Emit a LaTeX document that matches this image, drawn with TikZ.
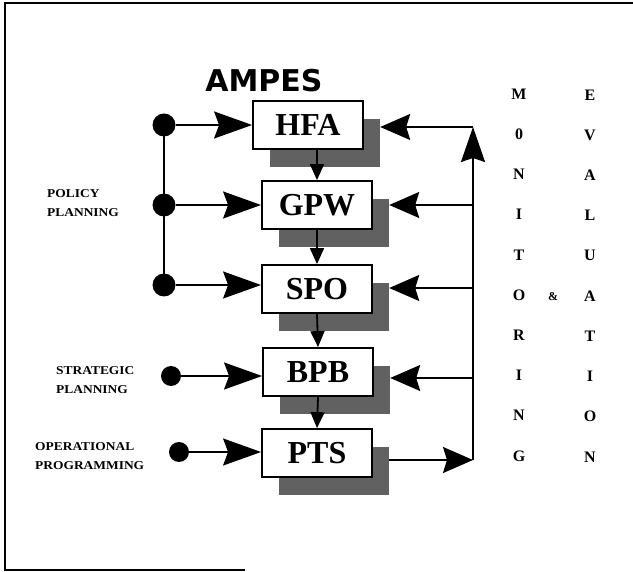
\documentclass[tikz,border=0pt]{standalone}
\usepackage{fontspec}
\setmainfont{Liberation Serif}
\newfontfamily\headfont{DejaVu Sans}
\newfontfamily\lblfont[FakeStretch=1.12]{Liberation Serif}
\usetikzlibrary{arrows.meta,positioning,calc}
\tikzset{
  >=Stealth,
  box/.style={rectangle, draw, line width=1.8pt, fill=white, minimum width=110pt, minimum height=48pt, inner sep=0pt, font=\fontsize{32}{32}\selectfont\bfseries},
  shadebox/.style={rectangle, fill=black!62, minimum width=110pt, minimum height=48pt, inner sep=0pt},
  dot/.style={circle, fill=black, inner sep=0pt, minimum size=23pt},
  feed/.style={-{Stealth[length=38pt, width=27pt, inset=5pt]}, line width=1.8pt},
  back/.style={-{Stealth[length=30pt, width=26pt, inset=4pt]}, line width=1.8pt},
  rise/.style={-{Stealth[length=35pt, width=24pt, inset=4pt]}, line width=1.8pt},
  down/.style={-{Triangle[length=16pt, width=14pt]}, line width=1.8pt},
  lbl/.style={font=\lblfont\fontsize{12}{19}\selectfont\bfseries, align=left, inner sep=0pt},
  letter/.style={font=\fontsize{16}{16}\selectfont\bfseries, inner sep=0pt}
}

\begin{document}
\begin{tikzpicture}[x=1pt, y=-1pt]
\useasboundingbox (0,0) rectangle (633,572);

% --- Frame ---
\draw[line width=1.6pt] (633,3) -- (5,3) -- (5,570) -- (245,570);

% --- Title ---
\node[font=\headfont\fontsize{30}{30}\selectfont\bfseries] (title) at (264,81) {AMPES};

% --- Boxes with shadows ---
\foreach \n/\x/\y in {HFA/308/125, GPW/317/205, SPO/317/289, BPB/318/372, PTS/317/453} {
    \node[shadebox] (sh\n) at (\x+17,\y+18) {};
    \node[box] (\n) at (\x,\y) {\n};
}

% Flow down the chain
\draw[down] (GPW.north |- HFA.south) -- (GPW.north);
\draw[down] (GPW.south) -- (SPO.north);
\draw[down] (SPO.south) -- (BPB.north);
\draw[down] (BPB.south) -- (PTS.north);

% --- Planning inputs ---
\node[dot] (pp1) at (164,125) {};
\node[dot] (pp2) at (164,205) {};
\node[dot] (pp3) at (164,285) {};
\node[dot, minimum size=20pt] (sp) at (171,376) {};
\node[dot, minimum size=20pt] (op) at (179,452) {};
\draw[line width=1.8pt] (pp1.center) -- (pp3.center);

\draw[feed] (pp1) -- (pp1 -| HFA.west);
\draw[feed] (pp2) -- (pp2 -| GPW.west);
\draw[feed] (pp3) -- (pp3 -| SPO.west);
\draw[feed] (sp) -- (sp -| BPB.west);
\draw[feed] (op) -- (op -| PTS.west);

\node[lbl, anchor=west] (policy) at (47,203) {POLICY\\PLANNING};
\node[lbl, anchor=west] (strategic) at (56,380) {STRATEGIC\\PLANNING};
\node[lbl, anchor=west] (operational) at (35,456) {OPERATIONAL\\PROGRAMMING};

% --- Monitoring loop ---
\coordinate (top) at (473,127);
\coordinate (bot) at (473,460);
\coordinate (mGPW) at (473,205);
\coordinate (mSPO) at (473,288);
\coordinate (mBPB) at (473,378);

\draw[back] (shPTS.east |- bot) -- (bot);
\draw[rise] (bot) -- (top);
\draw[back] (top) -- (top -| shHFA.east);
\foreach \n in {GPW, SPO, BPB} {
    \draw[back] (m\n) -- (m\n -| sh\n.east);
}

% --- Monitoring & evaluation ---
\foreach \c [count=\i from 0] in {M,0,N,I,T,O,R,I,N,G} {
    \node[letter] (mon\i) at (519,94+40.2*\i) {\c};
}
\foreach \c [count=\i from 0] in {E,V,A,L,U,A,T,I,O,N} {
    \node[letter] (eva\i) at (590,95+40.2*\i) {\c};
}
\node[letter, font=\fontsize{12}{12}\selectfont\bfseries] (amp) at (553,297) {\&};

\end{tikzpicture}
\end{document}
